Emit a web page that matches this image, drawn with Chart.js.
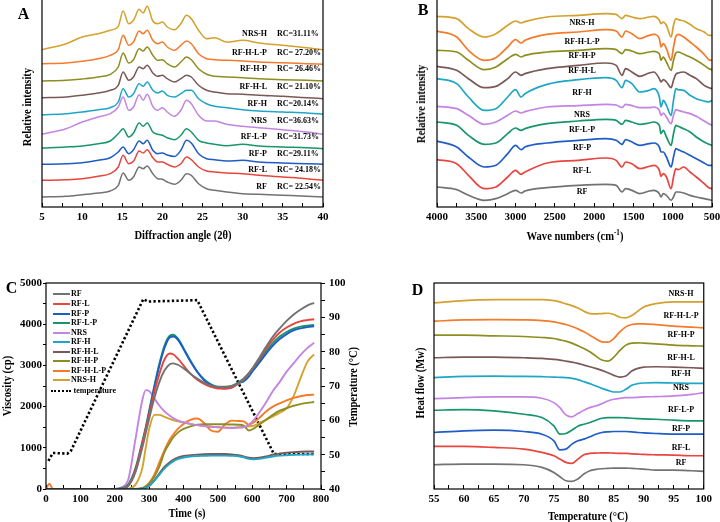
<!DOCTYPE html>
<html lang="en">
<head>
<meta charset="UTF-8">
<title>RF starch - XRD, FTIR, RVA and DSC</title>
<script src="https://cdn.jsdelivr.net/npm/chart.js"></script>
<style>
  html, body { margin: 0; padding: 0; background: #fff; }
  #fig { position: relative; width: 720px; height: 522px; overflow: hidden;
         font-family: "Liberation Serif", "Times New Roman", serif; font-weight: bold; color: #000; }
  #fig canvas { position: absolute; }
  .t { position: absolute; white-space: nowrap; line-height: 1; }
  .letter { font-size: 16px; }
  .title { font-size: 12px; }
  .lab { font-size: 8px; }
  sup { font-size: 8px; vertical-align: 5px; }
</style>
</head>
<body>
<div id="fig">
  <canvas id="chartA" width="360" height="264" style="left:0;top:-3px"></canvas>
  <canvas id="chartB" width="370" height="264" style="left:360px;top:-3px"></canvas>
  <canvas id="chartC" width="360" height="261" style="left:0;top:261px"></canvas>
  <canvas id="chartD" width="360" height="261" style="left:360px;top:261px"></canvas>
</div>

<script>
// samples, in legend order
const samples = ['RF', 'RF-L', 'RF-P', 'RF-L-P', 'NRS', 'RF-H', 'RF-H-L', 'RF-H-P', 'RF-H-L-P', 'NRS-H'];
const colors = ['#727272', '#e8453f', '#1f5cc8', '#17966a', '#c384e2', '#1ea6c6', '#7b5858', '#8e8e20', '#f47b2a', '#d4a12c'];

// A: XRD (relative intensity, stacked, arbitrary units)
const xrdAngle = [5, 8, 10, 12, 13.5, 14.5, 15.1, 15.8, 16.4, 17.1, 17.6, 18.1, 18.8, 19.4, 20, 20.6, 21.5, 22.3, 23, 23.6, 24.5, 25.5, 26.5, 28, 30, 32, 35, 38, 40];
const xrdRF     = [10, 10.7, 12.3, 14, 16, 21.7, 34, 26.7, 30, 40, 38.3, 41, 33.3, 28.3, 27.7, 25, 22.7, 26.7, 33.3, 31.7, 23.3, 18.3, 16.7, 15, 13.3, 12.7, 11.7, 10.7, 10];
const xrdRFL    = [26.7, 27.3, 28.3, 30.7, 33.3, 40, 51.7, 43.3, 45.7, 56, 54, 57.3, 49.3, 45, 45, 42.7, 40, 43.3, 50, 47.3, 40, 36, 35, 34, 33.3, 31.7, 30, 28.3, 26.7];
const xrdRFP    = [42.7, 43.3, 44.3, 46.7, 49.3, 55, 60, 53.3, 57.3, 66, 63.3, 66.7, 56.7, 53.3, 54, 52, 50.5, 56.7, 66.7, 64, 53.3, 48.3, 47.3, 46, 46.7, 45, 44, 43.3, 42.7];
const xrdRFLP   = [59, 60, 61, 63.3, 66, 73.3, 78.3, 70, 74, 84, 80.7, 84, 75, 72.7, 71.7, 69.3, 67.3, 71.7, 78.3, 75, 66.7, 64, 62.7, 61.3, 62.7, 61, 60, 59.3, 58.3];
const xrdNRS    = [72.7, 78.3, 85, 90, 93.3, 100, 110, 96.7, 100, 112.3, 106.7, 112.7, 100.7, 96.7, 99.3, 95, 90.7, 96.7, 106.7, 103.3, 91.7, 86, 86, 82.7, 80.7, 79.3, 77.3, 75, 72.7];
const xrdRFH    = [92.3, 93.3, 95, 97.3, 99.3, 105, 118.3, 110, 113.3, 123.3, 120.7, 125, 116.7, 114, 116, 111.7, 110, 113.3, 116.7, 116.7, 108.3, 103.3, 100.7, 99.3, 97.3, 96, 95, 94, 92.7];
const xrdRFHL   = [109.3, 110, 111.7, 114, 116.7, 121.7, 135, 126.7, 130, 140, 138.3, 141.7, 134, 130.7, 131.7, 128.3, 125, 128.3, 131.7, 130, 121.7, 116.7, 115, 113.3, 112.7, 111.7, 110.7, 109.3, 108.3];
const xrdRFHP   = [126, 126.7, 128, 130, 132.7, 140, 154, 144, 147.3, 158.3, 156, 160, 151.7, 146.7, 147.3, 143.3, 140, 145, 150, 147.3, 138.3, 132.7, 130.7, 130, 129.3, 128.3, 127.3, 126.7, 126];
const xrdRFHLP  = [143.3, 144, 145.7, 148.3, 151.7, 157.3, 171.7, 161.7, 165, 176, 173.3, 176.7, 166.7, 163.3, 165, 160, 156.7, 161.7, 166, 163.3, 153.3, 148.3, 147.3, 146.7, 146, 145, 144.3, 143.3, 142.7];
const xrdNRSH   = [157.3, 163.3, 170, 173.3, 176.7, 180.7, 196, 183.3, 186.7, 197.7, 194, 200.7, 186, 183.3, 185, 180, 177.3, 183.3, 191.7, 188.3, 176.7, 168.3, 169.3, 165, 166.7, 164, 161.7, 159.3, 157.3];
const xrdRC = ['RC= 22.54%', 'RC= 24.18%', 'RC=29.11%', 'RC=31.73%', 'RC=36.63%', 'RC=20.14%', 'RC= 21.10%', 'RC= 26.46%', 'RC= 27.20%', 'RC=31.11%'];

// B: FTIR (stacked, arbitrary units)
const ftirWave = [4000, 3750, 3600, 3400, 3250, 3100, 3000, 2930, 2880, 2600, 2200, 1850, 1720, 1645, 1600, 1520, 1420, 1300, 1240, 1170, 1150, 1120, 1080, 1020, 990, 960, 930, 860, 780, 700, 600, 540, 500];
const ftirRF    = [60, 52, 35, 20, 25, 40, 50, 42, 48, 58, 65, 68, 65, 45, 55, 50, 40, 48, 50, 40, 30, 40, 35, 20, 30, 45, 45, 42, 35, 30, 25, 22, 20];
const ftirRFL   = [142, 130, 95, 55, 60, 90, 110, 98, 105, 132, 140, 147, 140, 120, 135, 130, 115, 122, 125, 110, 92, 100, 90, 55, 90, 115, 112, 120, 105, 90, 70, 58, 55];
const ftirRFP   = [198, 180, 150, 120, 125, 160, 185, 172, 180, 192, 200, 205, 200, 188, 202, 195, 185, 190, 192, 180, 165, 165, 150, 120, 150, 175, 172, 165, 155, 145, 132, 125, 125];
const ftirRFLP  = [255, 245, 215, 188, 192, 220, 237, 230, 235, 250, 258, 263, 260, 248, 260, 255, 248, 252, 255, 245, 220, 230, 210, 185, 220, 245, 242, 235, 225, 210, 195, 188, 185];
const ftirNRS   = [302, 295, 275, 248, 255, 275, 288, 282, 286, 300, 304, 308, 306, 298, 308, 304, 298, 298, 300, 290, 275, 282, 270, 250, 275, 292, 290, 285, 280, 272, 258, 250, 245];
const ftirRFH   = [385, 370, 330, 290, 295, 330, 352, 330, 340, 368, 382, 388, 380, 358, 380, 370, 345, 350, 355, 330, 300, 320, 305, 275, 320, 355, 352, 350, 335, 325, 318, 315, 320];
const ftirRFHL  = [422, 410, 385, 358, 362, 385, 405, 395, 400, 415, 425, 432, 425, 395, 415, 405, 392, 402, 405, 385, 375, 382, 375, 358, 380, 398, 402, 405, 395, 385, 365, 358, 355];
const ftirRFHP  = [470, 465, 440, 412, 420, 445, 458, 450, 455, 465, 470, 475, 472, 460, 472, 468, 460, 465, 467, 460, 440, 450, 435, 410, 440, 462, 465, 458, 450, 440, 425, 415, 412];
const ftirRFHLP = [528, 510, 470, 440, 448, 480, 502, 492, 500, 518, 525, 532, 528, 510, 528, 520, 505, 515, 518, 505, 480, 490, 475, 440, 480, 512, 518, 510, 495, 480, 458, 442, 440];
const ftirNRSH  = [572, 565, 535, 510, 520, 545, 558, 552, 556, 570, 575, 580, 578, 565, 575, 570, 565, 570, 572, 560, 550, 555, 545, 510, 545, 565, 562, 558, 548, 535, 525, 515, 515];

// C: RVA viscosity (cp) and temperature profile (°C)
const rvaTime   = [0, 10, 20, 200, 220, 240, 260, 280, 290, 300, 315, 330, 345, 360, 370, 385, 400, 420, 440, 460, 480, 500, 520, 540, 560, 575, 590, 605, 620, 640, 660, 680, 700, 720, 740, 760, 780];
const rvaRF     = [0, 0, 0, 0, 10, 80, 400, 1000, 1350, 1700, 2200, 2600, 2880, 3030, 3050, 3010, 2930, 2800, 2680, 2580, 2510, 2480, 2480, 2500, 2560, 2650, 2800, 2980, 3180, 3450, 3700, 3900, 4080, 4230, 4350, 4450, 4520];
const rvaRFL    = [0, 0, 0, 0, 10, 90, 450, 1100, 1450, 1800, 2350, 2800, 3150, 3290, 3270, 3150, 3000, 2800, 2650, 2550, 2480, 2440, 2440, 2460, 2560, 2660, 2800, 2980, 3150, 3400, 3620, 3800, 3920, 4010, 4070, 4100, 4120];
const rvaRFP    = [0, 0, 0, 0, 10, 90, 450, 1100, 1450, 1850, 2450, 3000, 3430, 3680, 3700, 3610, 3400, 3100, 2840, 2640, 2520, 2460, 2440, 2460, 2570, 2610, 2730, 2900, 3060, 3280, 3480, 3640, 3760, 3850, 3900, 3930, 3950];
const rvaRFLP   = [0, 0, 0, 0, 20, 120, 500, 1150, 1500, 1900, 2500, 3050, 3490, 3720, 3745, 3640, 3420, 3120, 2850, 2660, 2540, 2480, 2470, 2500, 2590, 2680, 2810, 2970, 3120, 3340, 3540, 3700, 3810, 3890, 3940, 3965, 3980];
const rvaNRS    = [0, 0, 0, 0, 40, 250, 1200, 2150, 2400, 2380, 2200, 2020, 1880, 1780, 1720, 1660, 1620, 1580, 1550, 1530, 1510, 1500, 1490, 1480, 1490, 1500, 1560, 1680, 1850, 2100, 2380, 2600, 2850, 3050, 3250, 3420, 3550];
const rvaRFH    = [0, 0, 0, 0, 0, 0, 0, 10, 30, 70, 200, 350, 500, 610, 670, 730, 765, 790, 800, 805, 810, 810, 810, 805, 795, 770, 730, 720, 730, 760, 790, 810, 820, 830, 835, 838, 840];
const rvaRFHL   = [0, 0, 0, 0, 0, 0, 0, 10, 30, 70, 210, 380, 540, 650, 710, 770, 800, 820, 835, 845, 850, 850, 848, 840, 820, 790, 760, 750, 760, 790, 830, 860, 880, 895, 905, 910, 912];
const rvaRFHP   = [0, 0, 0, 0, 0, 0, 0, 20, 60, 130, 300, 550, 900, 1120, 1250, 1380, 1460, 1520, 1560, 1570, 1570, 1570, 1570, 1565, 1560, 1540, 1420, 1470, 1560, 1680, 1800, 1900, 1960, 2020, 2060, 2090, 2110];
const rvaRFHLP  = [0, 130, 0, 0, 0, 0, 0, 20, 70, 150, 350, 650, 950, 1200, 1320, 1470, 1580, 1680, 1710, 1600, 1420, 1390, 1560, 1660, 1650, 1640, 1560, 1620, 1720, 1880, 2000, 2080, 2150, 2210, 2250, 2280, 2290];
const rvaNRSH   = [0, 0, 0, 0, 0, 10, 100, 500, 1000, 1450, 1800, 1800, 1750, 1700, 1670, 1640, 1610, 1580, 1550, 1530, 1510, 1500, 1490, 1490, 1500, 1510, 1520, 1540, 1600, 1680, 1760, 1850, 1960, 2250, 2680, 3080, 3270];
const tempTime  = [7, 20, 62, 72, 283, 296, 440, 663, 780];
const tempValue = [48.2, 50.5, 50.3, 51, 95.3, 94.6, 95, 50.2, 50.2];

// D: DSC heat flow (stacked, arbitrary units)
const dscTemp   = [55, 60, 65, 70, 73, 75, 76, 77, 78, 79, 80, 81, 82, 83, 84, 85, 86, 87, 88, 89, 90, 92, 95, 98, 100];
const dscRF     = [73, 75, 75, 73, 65, 50, 37, 25, 23, 30, 45, 55, 59, 61, 62, 63, 63, 63, 62, 61, 60, 57, 57, 55, 53];
const dscRFL    = [128, 128, 125, 120, 110, 100, 90, 80, 77, 90, 103, 107, 108, 109, 109, 108, 107, 107, 106, 105, 104, 103, 102, 100, 100];
const dscRFP    = [170, 175, 177, 173, 165, 145, 118, 120, 135, 145, 150, 157, 165, 170, 172, 173, 173, 173, 172, 170, 169, 167, 165, 165, 165];
const dscRFLP   = [237, 239, 235, 225, 215, 190, 165, 167, 177, 189, 195, 200, 207, 213, 215, 215, 215, 214, 213, 212, 211, 210, 207, 205, 205];
const dscNRS    = [272, 275, 277, 277, 273, 260, 245, 223, 217, 227, 237, 245, 250, 257, 265, 270, 273, 275, 275, 276, 277, 278, 280, 285, 290];
const dscRFH    = [335, 339, 340, 339, 338, 337, 336, 335, 333, 329, 323, 317, 310, 303, 297, 292, 292, 300, 312, 317, 319, 320, 319, 318, 318];
const dscRFHL   = [395, 397, 397, 395, 393, 390, 388, 385, 382, 378, 373, 368, 363, 357, 350, 342, 337, 340, 355, 363, 367, 368, 367, 365, 363];
const dscRFHP   = [463, 463, 461, 459, 456, 453, 449, 445, 439, 431, 423, 413, 400, 388, 385, 397, 417, 433, 439, 440, 439, 437, 433, 431, 430];
const dscRFHLP  = [505, 509, 510, 509, 507, 503, 499, 495, 489, 482, 473, 463, 452, 443, 442, 453, 473, 488, 495, 497, 497, 495, 490, 487, 485];
const dscNRSH   = [560, 567, 570, 570, 570, 567, 563, 557, 552, 545, 535, 528, 527, 528, 529, 525, 517, 515, 522, 535, 548, 558, 563, 563, 563];

const xrdSeries  = [xrdRF, xrdRFL, xrdRFP, xrdRFLP, xrdNRS, xrdRFH, xrdRFHL, xrdRFHP, xrdRFHLP, xrdNRSH];
const ftirSeries = [ftirRF, ftirRFL, ftirRFP, ftirRFLP, ftirNRS, ftirRFH, ftirRFHL, ftirRFHP, ftirRFHLP, ftirNRSH];
const rvaSeries  = [rvaRF, rvaRFL, rvaRFP, rvaRFLP, rvaNRS, rvaRFH, rvaRFHL, rvaRFHP, rvaRFHLP, rvaNRSH];
const dscSeries  = [dscRF, dscRFL, dscRFP, dscRFLP, dscNRS, dscRFH, dscRFHL, dscRFHP, dscRFHLP, dscNRSH];

// ---------- helpers ----------
const serif = '"Liberation Serif", "Times New Roman", serif';
const tickFont = { family: serif, size: 11, weight: 'bold' };
Chart.defaults.font.family = serif;
Chart.defaults.color = '#000';

const points = (xs, ys) => xs.map((x, i) => ({ x: x, y: ys[i] }));

function lines(xs, list, width) {
  return list.map((ys, i) => ({
    label: samples[i], data: points(xs, ys),
    borderColor: colors[i], borderWidth: width,
    pointRadius: 0, fill: false, cubicInterpolationMode: 'monotone'
  }));
}

// box around the plot area
const frame = {
  id: 'frame',
  afterDatasetsDraw(chart) {
    const { ctx, chartArea: a } = chart;
    ctx.save();
    ctx.strokeStyle = '#000';
    ctx.lineWidth = 1.2;
    ctx.strokeRect(a.left, a.top, a.right - a.left, a.bottom - a.top);
    ctx.restore();
  }
};

function xAxis(min, max, step, major, height, reverse) {
  return {
    type: 'linear', min: min, max: max, reverse: !!reverse,
    border: { display: false },
    grid: { drawOnChartArea: false, tickLength: -4, color: '#000' },
    ticks: { stepSize: step, autoSkip: false, maxRotation: 0, padding: 8, color: '#000', font: tickFont,
             callback: v => (Math.abs(v % major) < 1e-6 ? v : '') },
    afterFit: s => { s.height = height; }
  };
}

function hiddenY(max, width) {
  return {
    min: 0, max: max,
    border: { display: false }, grid: { display: false }, ticks: { display: false },
    afterFit: s => { s.width = width; }
  };
}

function draw(id, datasets, scales, padding) {
  new Chart(document.getElementById(id), {
    type: 'line',
    data: { datasets: datasets },
    options: {
      responsive: false, animation: false,
      layout: { padding: padding },
      plugins: { legend: { display: false }, tooltip: { enabled: false } },
      scales: scales
    },
    plugins: [frame]
  });
}

// ---------- A ----------
draw('chartA', lines(xrdAngle, xrdSeries, 1.5),
  { x: xAxis(5, 40, 2.5, 5, 54), y: hiddenY(210, 42) },
  { left: 0, right: 37, top: 0, bottom: 0 });

// ---------- B ----------
draw('chartB', lines(ftirWave, ftirSeries, 1.7),
  { x: xAxis(500, 4000, 250, 500, 54, true), y: hiddenY(630, 77) },
  { left: 0, right: 18, top: 0, bottom: 0 });

// ---------- C ----------
const rvaSets = lines(rvaTime, rvaSeries, 1.9);
rvaSets.push({
  label: 'temperature', data: points(tempTime, tempValue), yAxisID: 'y2',
  borderColor: '#000', borderWidth: 2.6, borderDash: [2.3, 2.3],
  pointRadius: 0, fill: false, tension: 0
});
draw('chartC', rvaSets, {
  x: xAxis(0, 800, 50, 100, 33),
  y: {
    min: 0, max: 5000, border: { display: false },
    grid: { drawOnChartArea: false, tickLength: 3, color: '#000' },
    ticks: { stepSize: 500, autoSkip: false, padding: 1, color: '#000', font: tickFont,
             callback: v => (v % 1000 === 0 ? v : '') },
    afterFit: s => { s.width = 46; }
  },
  y2: {
    position: 'right', min: 40, max: 100, border: { display: false },
    grid: { drawOnChartArea: false, tickLength: 4, color: '#000' },
    ticks: { stepSize: 5, autoSkip: false, padding: 4, color: '#000', font: tickFont,
             callback: v => (v % 10 === 0 ? v : '') },
    afterFit: s => { s.width = 39; }
  }
}, { left: 0, right: 0, top: 22, bottom: 0 });

// ---------- D ----------
draw('chartD', lines(dscTemp, dscSeries, 1.7),
  { x: xAxis(55, 100, 2.5, 5, 33), y: hiddenY(620, 74) },
  { left: 0, right: 10, top: 22, bottom: 0 });

// ---------- text ----------
const fig = document.getElementById('fig');
function text(html, x, y, cls, align, rotate) {
  const d = document.createElement('div');
  d.className = 't ' + cls;
  d.innerHTML = html;
  d.style.left = x + 'px';
  d.style.top = y + 'px';
  const tx = align === 'l' ? '0' : align === 'r' ? '-100%' : '-50%';
  d.style.transform = 'translate(' + tx + ',-50%)' + (rotate ? ' rotate(-90deg)' : '') +
    (cls === 'title' ? ' scaleX(0.88)' : '');
  fig.appendChild(d);
  return d;
}

text('A', 23.5, 13.5, 'letter', 'c');
text('B', 423, 9.5, 'letter', 'c');
text('C', 11.5, 287.5, 'letter', 'c');
text('D', 417.5, 289.5, 'letter', 'c');

text('Diffraction angle (2θ)', 182.5, 235, 'title', 'c');
text('Relative intensity', 27, 107, 'title', 'c', true);
text('Wave numbers (cm<sup>-1</sup>)', 575, 235, 'title', 'c');
text('Relative intensity', 421, 104, 'title', 'c', true);
text('Time (s)', 187, 513, 'title', 'c');
text('Viscosity (cp)', 7, 386, 'title', 'c', true);
text('Temperature (°C)', 353, 387, 'title', 'c', true);
text('Temperature (°C)', 588, 516, 'title', 'c');
text('Heat flow (Mw)', 420, 383, 'title', 'c', true);

// curve labels
const xrdLabelY  = [186.7, 170, 154.3, 137.3, 120.7, 104, 87.3, 69.3, 53.3, 34.3];
const ftirLabelY = [192.3, 170.7, 148.3, 130, 115, 92.7, 71, 56, 41.7, 22.7];
const dscLabelY  = [462.7, 447.7, 429.3, 410.3, 387.7, 374.3, 357.7, 335, 316, 294.3];
samples.forEach((name, i) => {
  text(name, 267, xrdLabelY[i], 'lab', 'r');
  text(xrdRC[i], 277, xrdLabelY[i], 'lab', 'l');
  text(name, 582, ftirLabelY[i], 'lab', 'c');
  text(name, 681, dscLabelY[i], 'lab', 'c');
});

// legend of C
const legendY = [294.3, 304, 313.7, 323.3, 332.7, 342, 351.7, 361, 370.7, 380];
samples.forEach((name, i) => {
  const sw = document.createElement('div');
  sw.style.cssText = 'position:absolute;left:52.5px;width:17px;height:2px;background:' + colors[i] +
    ';top:' + (legendY[i] - 1) + 'px';
  fig.appendChild(sw);
  text(name, 71, legendY[i], 'lab', 'l');
});
const dots = document.createElement('div');
dots.style.cssText = 'position:absolute;left:51px;width:20px;height:0;border-top:2.6px dotted #000;top:390px';
fig.appendChild(dots);
text('temperature', 73.5, 391.3, 'lab', 'l');
</script>
</body>
</html>
